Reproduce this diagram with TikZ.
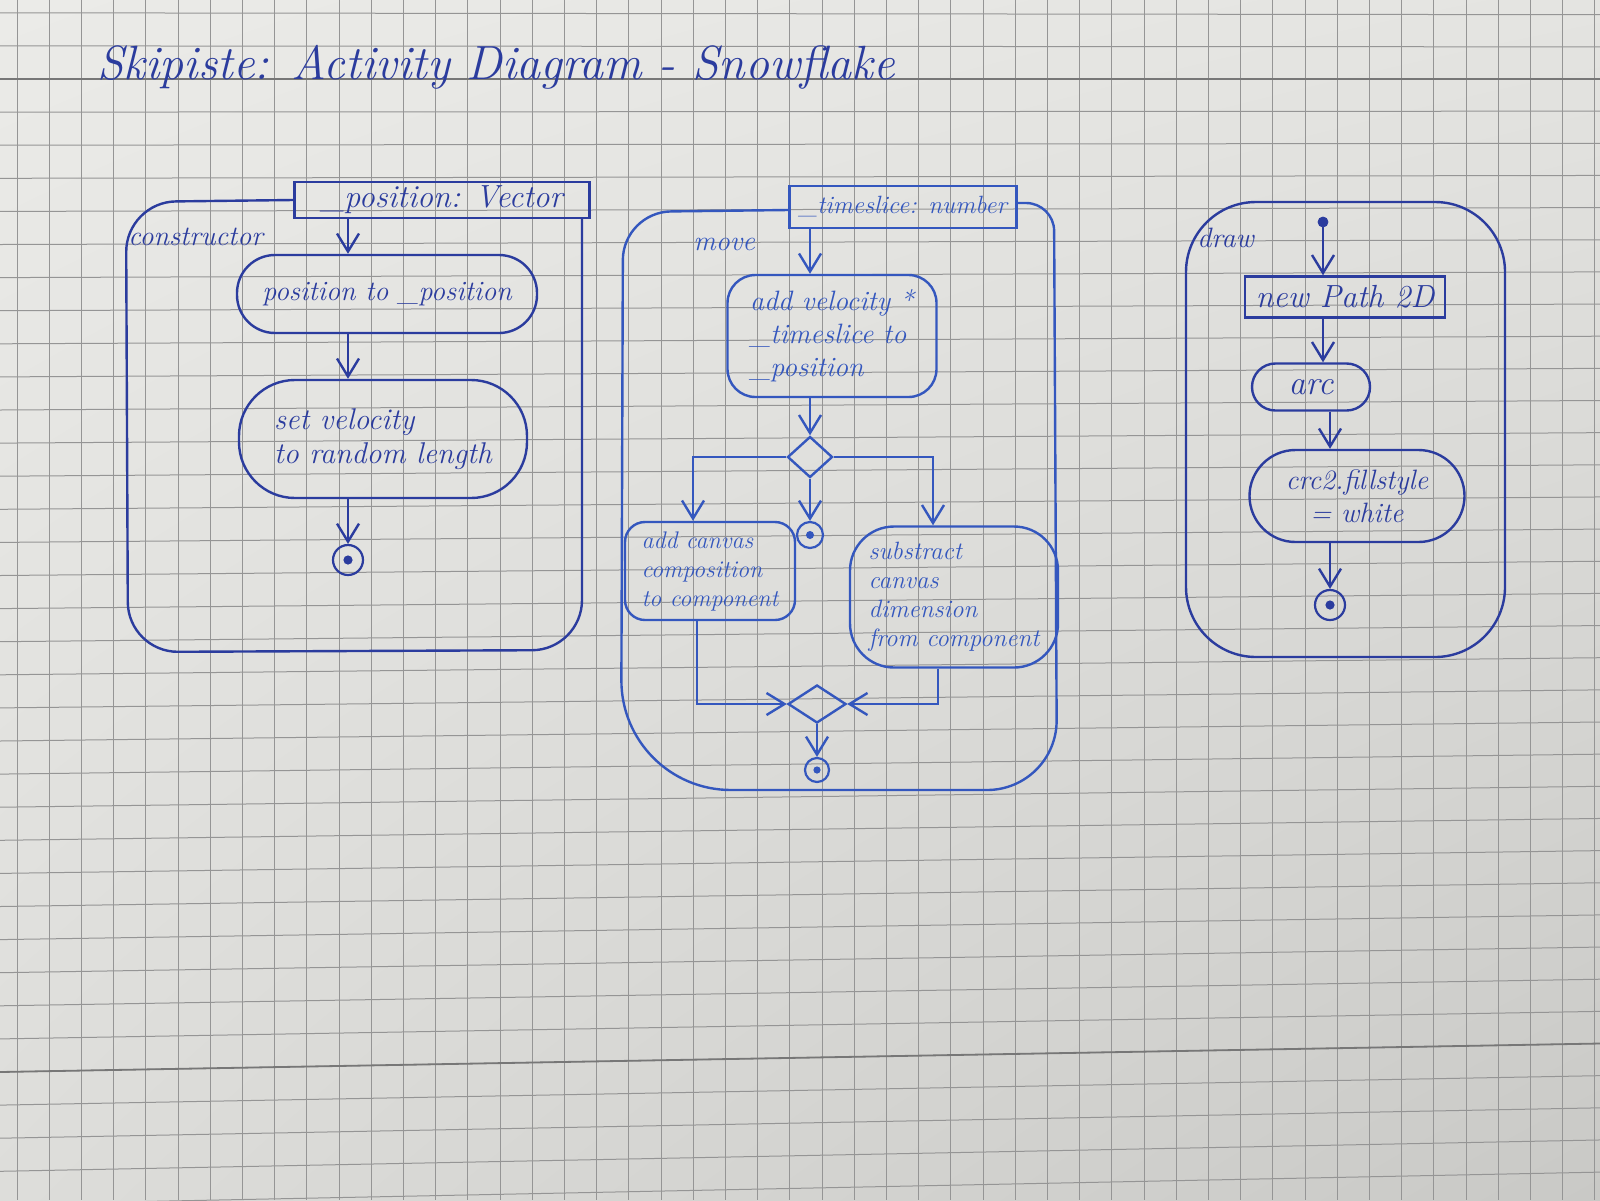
\documentclass[tikz,border=0pt]{standalone}
\usetikzlibrary{arrows.meta,shapes.geometric,shadings}
\definecolor{paperTL}{HTML}{EBEBE8}
\definecolor{paperTR}{HTML}{E4E4E1}
\definecolor{paperBL}{HTML}{DDDDDA}
\definecolor{paperBR}{HTML}{C9C9C6}
\definecolor{gridc}{HTML}{959595}
\definecolor{pen}{HTML}{2B3C9E}
\definecolor{penlight}{HTML}{3457BE}
\tikzset{
  ink/.style={draw=pen, line width=1.2pt},
  gridline/.style={draw=gridc, line width=0.5pt},
  headline/.style={draw=gridc!80!black, line width=0.9pt},
  hand/.style={font=\fontsize{14}{16.5}\selectfont\itshape, text=pen},
  act/.style={ink, hand, inner sep=0pt},
  pbox/.style={ink, hand, inner sep=0pt, font=\fontsize{16}{18}\selectfont\itshape},
  decision/.style={diamond, ink, inner sep=0pt, minimum width=22.5pt, minimum height=20.5pt},
  finalnode/.style={circle, ink, line width=1.1pt, minimum size=15pt, inner sep=0pt,
    path picture={\fill[pen] (path picture bounding box.center) circle (2.3pt);}},
  initnode/.style={circle, fill=pen, draw=pen, minimum size=5pt, inner sep=0pt},
  arr/.style={ink, -{Straight Barb[length=9pt,width=11pt,line width=1.2pt]}},
  framelabel/.style={hand, anchor=base west, inner sep=0pt}
}
\begin{document}
\begin{tikzpicture}[x=0.5pt,y=-0.5pt]
% squared paper, one cell is about 32 units
\useasboundingbox (0,0) rectangle (1600,1200);
\shade[upper left=paperTL, upper right=paperTR, lower left=paperBL, lower right=paperBR]
  (0,0) rectangle (1600,1200);
\foreach \gx in {17,49.2,...,1600}
  \draw[gridline] (\gx,0) -- (\gx,1200);
\foreach \gk in {-2,...,34}
  \draw[gridline] (0,{79+33.1*\gk}) -- (1600,{79+33.1*\gk-0.95*\gk});
\draw[headline] (0,79) -- (1600,79);
\draw[headline] (0,1072) -- (1600,1043.5);

% title
\node[hand, anchor=base west, inner sep=0pt, font=\fontsize{24}{28}\selectfont\itshape]
  (title) at (97,79) {Skipiste: Activity Diagram - Snowflake};

% ---------- constructor ----------
\node[pbox, minimum width=147.5pt, minimum height=18pt] (p1) at (442,200) {\_position: Vector};
\node[act, minimum width=150pt, minimum height=39pt, rounded corners=19pt] (a1) at (387,294)
  {position to \_position};
\node[act, minimum width=144pt, minimum height=59pt, rounded corners=28pt, align=left,
  font=\fontsize{15}{17}\selectfont\itshape] (a2) at (383,439)
  {set velocity\\to random length};
\node[finalnode] (f1) at (348,560) {};
\node[framelabel] (l1) at (128,245) {constructor};
\draw[ink, rounded corners=25pt] (p1.west |- 0,200) -- (126,202) -- (128,652) -- (582,650) -- (582,218);

\draw[arr] (p1.south -| f1) -- (a1.north -| f1);
\draw[arr] (a1.south -| f1) -- (a2.north -| f1);
\draw[arr] (a2.south -| f1) -- (f1);

% ---------- move ----------
\begin{scope}[ink/.style={draw=penlight, line width=1.2pt}, hand/.style={font=\fontsize{14}{16.5}\selectfont\itshape, text=penlight}]
\node[pbox, minimum width=113.5pt, minimum height=21pt, inner xsep=2.5pt,
  font=\fontsize{12.5}{15}\selectfont\itshape] (p2) at (903,207) {\_timeslice: number};
\node[act, minimum width=104.5pt, minimum height=61pt, rounded corners=14pt, align=left] (a3) at (832,336)
  {add velocity *\\\_timeslice to\\\_position};
\node[decision] (d1) at (810,457) {};
\node[finalnode, minimum size=13pt, path picture={\fill[penlight] (path picture bounding box.center) circle (2pt);}] (f2) at (810,535) {};
\node[act, minimum width=85pt, minimum height=49pt, rounded corners=10pt, align=left,
  font=\fontsize{12}{14.5}\selectfont\itshape] (a4) at (710,571)
  {add canvas\\composition\\to component};
\node[act, minimum width=104pt, minimum height=70.5pt, rounded corners=22pt, align=left,
  font=\fontsize{12.5}{14.5}\selectfont\itshape] (a5) at (954,597)
  {substract\\canvas\\dimension\\from component};
\node[decision, minimum width=29pt, minimum height=19pt] (m1) at (817,704) {};
\node[finalnode, minimum size=12pt, path picture={\fill[penlight] (path picture bounding box.center) circle (1.8pt);}] (f3) at (817,770) {};
\node[framelabel] (l2) at (693,250) {move};

\draw[ink] (p2.west |- 0,210) [rounded corners=24pt] -- (623,212) [rounded corners=55pt] -- (621,790)
  [rounded corners=35pt] -- (1057,790) [rounded corners=14pt] -- (1054,203) -- (p2.east |- 0,203);

\draw[arr] (p2.south -| d1) -- (a3.north -| d1);
\draw[arr] (a3.south -| d1) -- (d1);
\draw[arr] (d1.west) -| ([xshift=-8.5pt]a4.north);
\draw[arr] (d1.east) -| ([xshift=-10.5pt]a5.north);
\draw[arr] (d1.south) -- (f2);
\draw[arr] ([xshift=-6.5pt]a4.south) |- (m1.west);
\draw[arr] ([xshift=-8pt]a5.south) |- (m1.east);
\draw[arr] (m1.south) -- (f3);
\end{scope}

% ---------- draw ----------
\node[initnode] (i1) at (1323,222) {};
\node[act, minimum width=100pt, minimum height=20.5pt, font=\fontsize{16}{18}\selectfont\itshape] (a6) at (1345,297)
  {new Path 2D};
\node[act, minimum width=59pt, minimum height=23.5pt, rounded corners=11.7pt, font=\fontsize{17}{18}\selectfont\itshape] (a7) at (1311,387)
  {arc};
\node[act, minimum width=107.5pt, minimum height=46pt, rounded corners=23pt, align=center] (a8) at (1357,496)
  {crc2.fillstyle\\= white};
\node[finalnode] (f4) at (1330,605) {};
\node[framelabel] (l3) at (1197,247) {draw};
\draw[ink, rounded corners=35pt] (1186,202) rectangle (1505,657);

\draw[arr] (i1) -- (a6.north -| i1);
\draw[arr] (a6.south -| i1) -- (a7.north -| i1);
\draw[arr] (a7.south -| f4) -- (a8.north -| f4);
\draw[arr] (a8.south -| f4) -- (f4);
\end{tikzpicture}
\end{document}
